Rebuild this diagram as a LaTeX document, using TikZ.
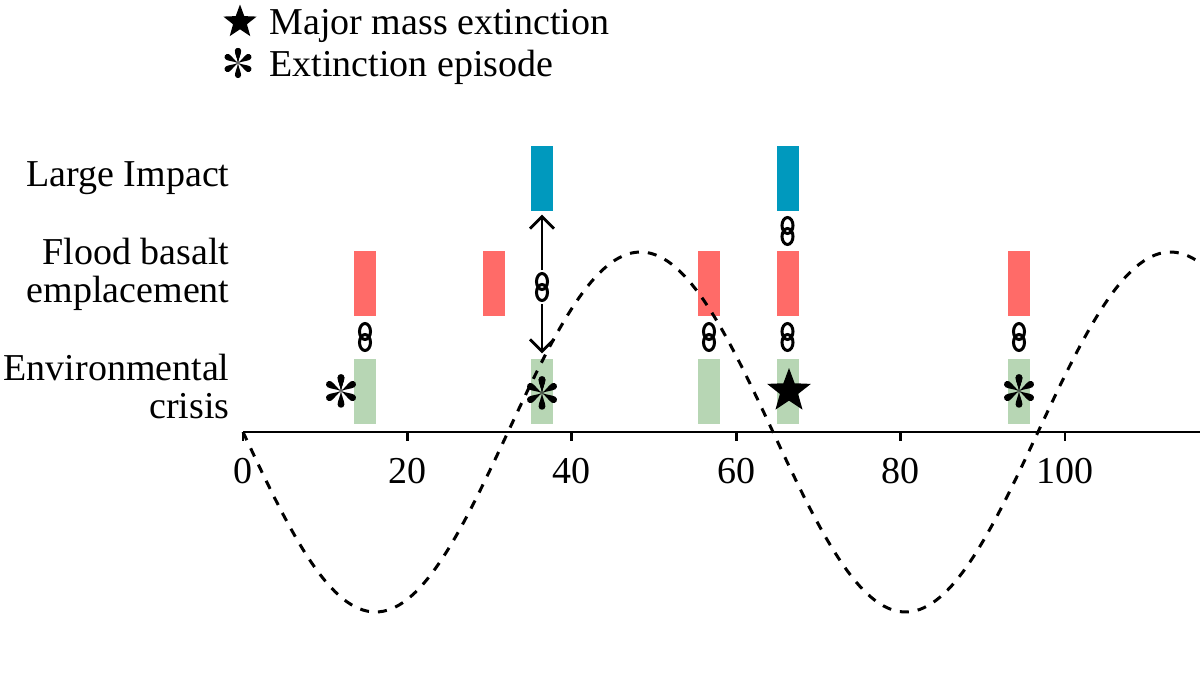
\documentclass[tikz,border=0pt]{standalone}
\usepackage{fontspec}
\setmainfont{Liberation Serif}
\usetikzlibrary{arrows.meta,shapes.geometric}

\definecolor{impactblue}{RGB}{0,153,190}
\definecolor{basaltred}{RGB}{255,107,104}
\definecolor{crisisgreen}{RGB}{183,214,180}

\tikzset{
	bar/.style={minimum width=22pt, minimum height=65pt, inner sep=0pt},
	impact/.style={bar, fill=impactblue},
	basalt/.style={bar, fill=basaltred},
	crisis/.style={bar, fill=crisisgreen},
	chain/.pic={
		\draw[line width=3pt] (0,-5.5) ellipse [x radius=5.5, y radius=8];
		\draw[line width=3pt] (0,5.5) ellipse [x radius=5.5, y radius=8];
	},
	asterisk/.pic={
		\foreach \a in {90,150,...,450}
			\fill[rotate=\a] (0,0) .. controls (5,0.6) and (10,3.4) .. (13.5,3.4)
				.. controls (17.8,3.4) and (17.8,-3.4) .. (13.5,-3.4)
				.. controls (10,-3.4) and (5,-0.6) .. (0,0);
	},
	extinct/.style={star, star points=5, star point ratio=2.4, fill=black, inner sep=0pt, minimum size=#1},
	rowlabel/.style={anchor=east, align=right},
	ticklabel/.style={anchor=base},
	wave/.style={line width=3pt, dash pattern=on 9pt off 9pt},
	axisline/.style={line width=2.8pt},
	link arrow/.style={->, line width=2.8pt, shorten <=17pt, shorten >=4pt}
}

\begin{document}
\begin{tikzpicture}[x=1pt, y=-1pt, >={Straight Barb[length=12pt, width=24pt]},
	every node/.style={font=\fontsize{38}{38}\selectfont}]
	\useasboundingbox (0,0) rectangle (1200,675);
	% legend
	\node[extinct=35pt] (keystar) at (240,22) {};
	\node[anchor=base west] (keystartxt) at (266,34) {Major mass extinction};
	\coordinate (keyast) at (238,63);
	\pic[scale=0.9] at (keyast) {asterisk};
	\node[anchor=base west] (keyasttxt) at (266,76) {Extinction episode};
	% rows
	\node[rowlabel] (lbimpact) at (233,178) {Large Impact};
	\node[rowlabel] (lbbasalt) at (233,274) {Flood basalt\\emplacement};
	\node[rowlabel] (lbcrisis) at (233,386) {Environmental\\crisis};
	% bars
	\node[impact] (imp36) at (542,178) {};
	\node[impact] (imp66) at (787.5,178) {};
	\foreach \x/\n in {365/15, 493.5/30, 709/57, 787.5/66, 1019/94}
		\node[basalt] (fb\n) at (\x,283.5) {};
	\foreach \x/\n in {365/15, 542/36, 709/57, 787.5/66, 1019/94}
		\node[crisis] (cr\n) at (\x,391) {};
	% links
	\coordinate (lk36) at (542,287);
	\coordinate (lk66a) at (787.5,231);
	\foreach \x/\n in {365/15, 709/57, 787.5/66, 1019/94}
		\coordinate (lk\n) at (\x,337);
	\foreach \l in {lk36, lk66a, lk15, lk57, lk66, lk94}
		\pic at (\l) {chain};
	\draw[link arrow] (lk36) -- (imp36);
	\draw[link arrow, shorten >=5pt] (lk36) -- (cr36);
	% axis
	\draw[axisline] (243,432) -- (1200,432);
	\foreach \v in {0,20,...,100} {
		\draw[axisline] ({243+8.22*\v},432) -- ++(0,9);
		\node[ticklabel] (tk\v) at ({243+8.22*\v},483) {\v};
	}
	% cycle
	\draw[wave] plot[domain=243:1200, samples=240] (\x, {432+180*sin((\x-243)*0.67925)});
	% extinctions
	\coordinate (ep15) at (341,391);
	\coordinate (ep36) at (542,393);
	\coordinate (ep94) at (1019,391);
	\foreach \e in {ep15, ep36, ep94}
		\pic at (\e) {asterisk};
	\node[extinct=46pt] (me66) at (789,391) {};
\end{tikzpicture}
\end{document}
